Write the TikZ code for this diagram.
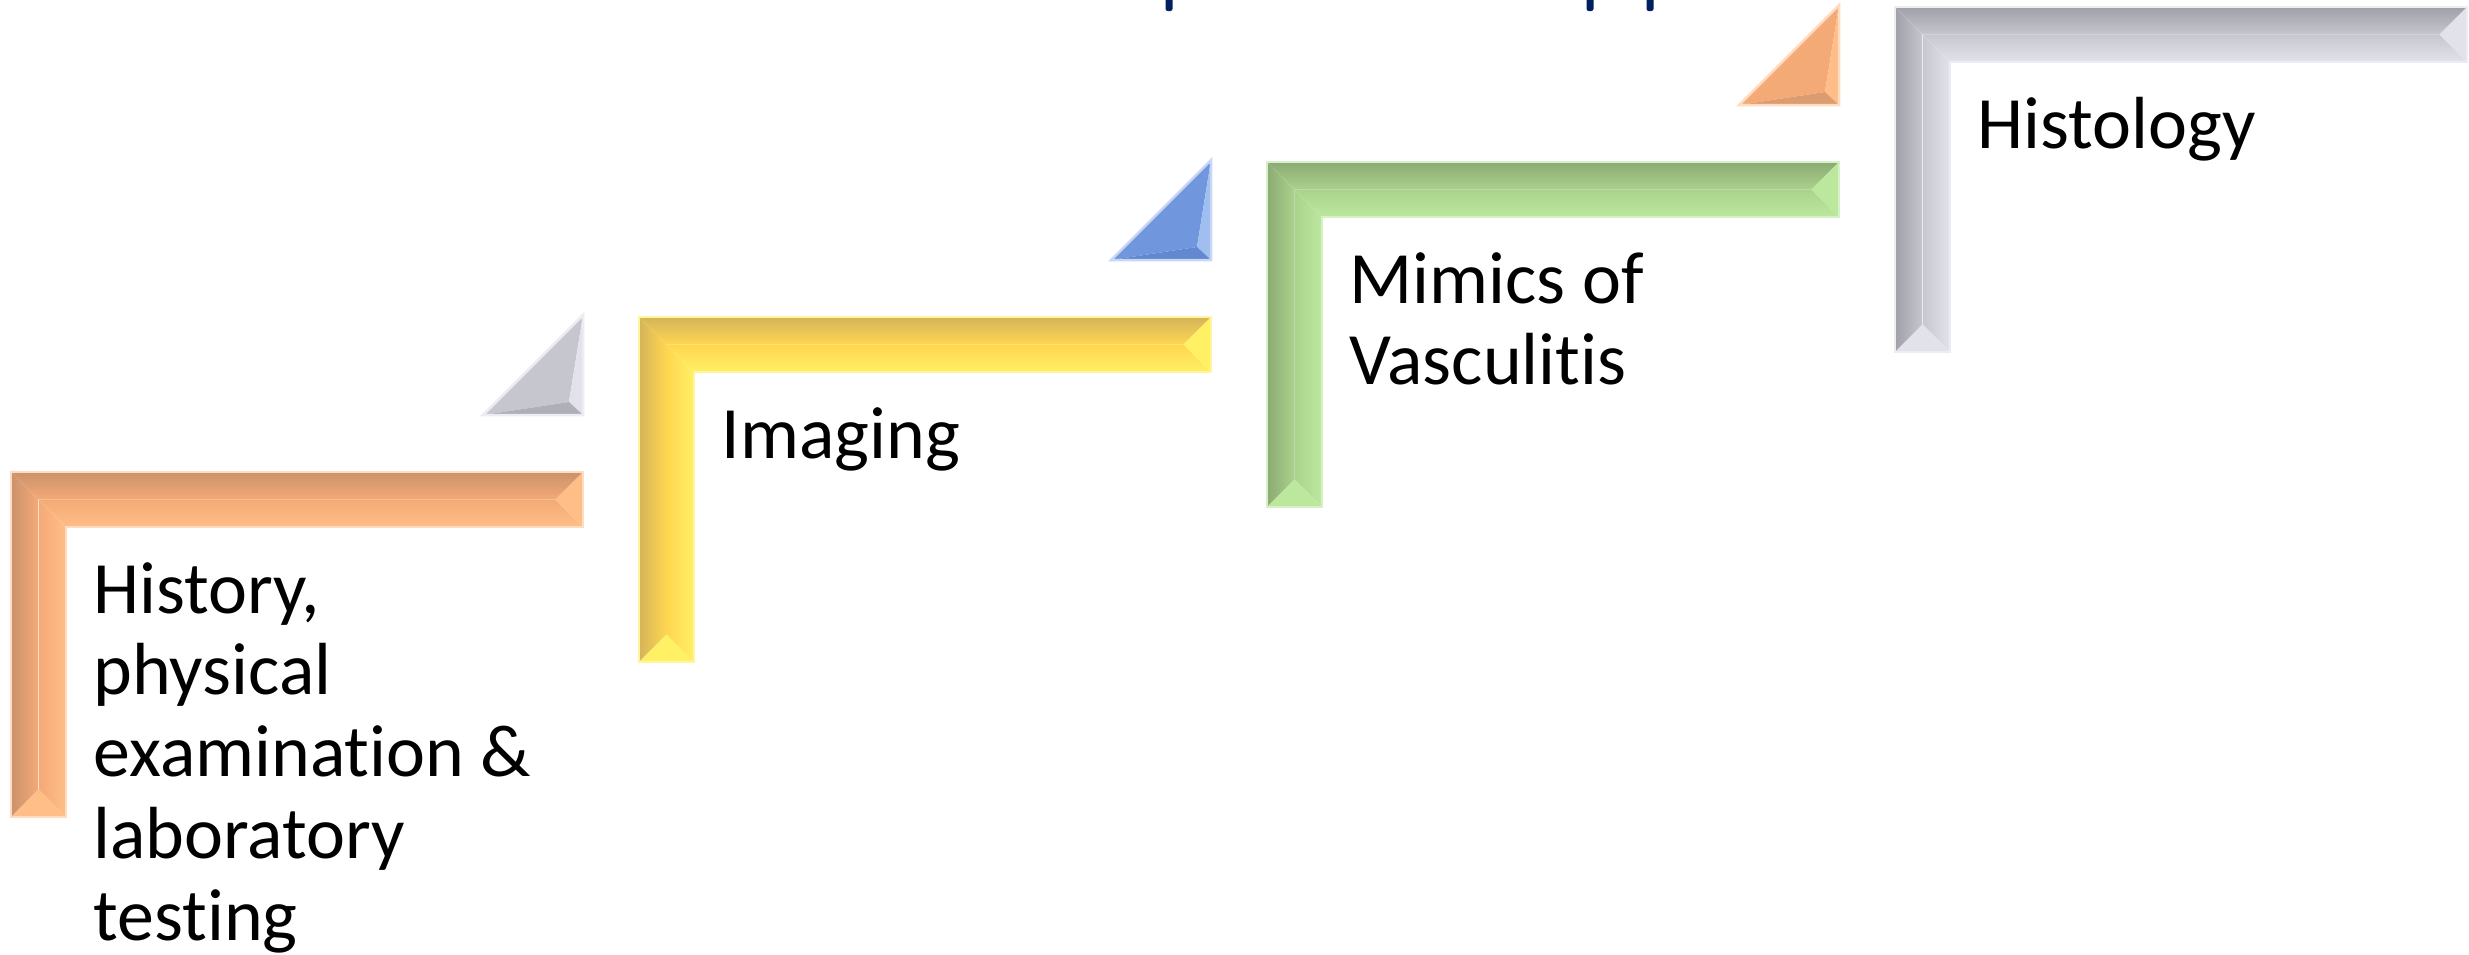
\documentclass[tikz,border=0pt]{standalone}
\usepackage{fontspec}
\setmainfont{Carlito}[RawFeature={-liga;-dlig;-clig}]
\newcommand{\nolig}{\kern0pt{}}
\definecolor{odark}{RGB}{202,146,108}
\definecolor{omid}{RGB}{244,170,118}
\definecolor{olight}{RGB}{255,190,135}
\definecolor{orim}{RGB}{255,220,192}
\definecolor{ydark}{RGB}{212,180,90}
\definecolor{ymid}{RGB}{255,214,80}
\definecolor{ylight}{RGB}{255,240,100}
\definecolor{yrim}{RGB}{255,245,160}
\definecolor{gdark}{RGB}{140,170,115}
\definecolor{gmid}{RGB}{170,210,140}
\definecolor{glight}{RGB}{188,232,158}
\definecolor{grim}{RGB}{214,240,200}
\definecolor{sdark}{RGB}{160,160,168}
\definecolor{smid}{RGB}{198,198,206}
\definecolor{slight}{RGB}{226,226,234}
\definecolor{srim}{RGB}{236,236,242}
\definecolor{bdark}{RGB}{88,126,200}
\definecolor{bmid}{RGB}{112,150,222}
\definecolor{blight}{RGB}{160,190,240}
\definecolor{brim}{RGB}{200,215,245}
\definecolor{navy}{RGB}{0,32,96}
\newcommand{\stepshape}[6]{%
\begin{scope}[shift={(#1,#2)}]
 \shade[top color=#3, bottom color=#4] (0,0) -- (572,0) -- (544.5,27.5) -- (27.5,27.5) -- cycle;
 \shade[top color=#4, bottom color=#5] (27.5,27.5) -- (544.5,27.5) -- (572,55) -- (55,55) -- cycle;
 \fill[#5] (572,0) -- (572,55) -- (544.5,27.5) -- cycle;
 \shade[left color=#3, right color=#4] (0,0) -- (27.5,27.5) -- (27.5,317.5) -- (0,345) -- cycle;
 \shade[left color=#4, right color=#5] (27.5,27.5) -- (55,55) -- (55,345) -- (27.5,317.5) -- cycle;
 \fill[#5] (0,345) -- (55,345) -- (27.5,317.5) -- cycle;
 \draw[rimline, #6] (0,0) -- (572,0) -- (572,55) -- (55,55) -- (55,345) -- (0,345) -- cycle;
\end{scope}}
\newcommand{\stepcorner}[8]{%
 \fill[#6] (#1,#2) -- (#3,#4) -- (#1-14,#4-13) -- cycle;
 \fill[#7] (#1,#2) -- (#1,#4) -- (#1-14,#4-13) -- cycle;
 \fill[#5!60!#6] (#3,#4) -- (#1,#4) -- (#1-14,#4-13) -- cycle;
 \draw[rimline, #8] (#1,#2) -- (#1,#4) -- (#3,#4) -- cycle;}
\tikzset{
 rimline/.style={line width=0.025cm, line join=miter},
 lbl/.style={anchor=base west, inner sep=0pt, font=\fontsize{21}{23.3}\selectfont, text=black},
 stub/.style={fill=navy, rounded corners=0.6pt}
}
\begin{document}
\begin{tikzpicture}[x=0.01cm,y=-0.01cm]
\useasboundingbox (0,0) rectangle (2469,954);
% cropped title descenders
\fill[stub] (1165.5,-5) rectangle (1172.5,11);
\fill[stub] (1586.5,-5) rectangle (1593.5,11);
\fill[stub] (1646.5,-5) rectangle (1653.5,11);
% step shapes
\stepshape{11}{472}{odark}{omid}{olight}{orim}
\stepshape{639}{317}{ydark}{ymid}{ylight}{yrim}
\stepshape{1267}{162}{gdark}{gmid}{glight}{grim}
\stepshape{1895}{7}{sdark}{smid}{slight}{srim}
% corner triangles
\stepcorner{583}{315}{483}{415}{sdark}{smid}{slight}{srim}
\stepcorner{1211}{160}{1111}{260}{bdark}{bmid}{blight}{brim}
\stepcorner{1839}{5}{1739}{105}{odark}{omid}{olight}{orim}
% labels
\node[lbl] (t1) at (93,613) {\parbox[t]{6cm}{History,\\physical\\examinat\nolig ion \&\\laboratory\\test\nolig ing}};
\node[lbl] (t2) at (721,458) {Imaging};
\node[lbl] (t3) at (1349,303) {\parbox[t]{6cm}{Mimics of\\Vasculit\nolig is}};
\node[lbl] (t4) at (1977,148) {Histology};
\end{tikzpicture}
\end{document}
